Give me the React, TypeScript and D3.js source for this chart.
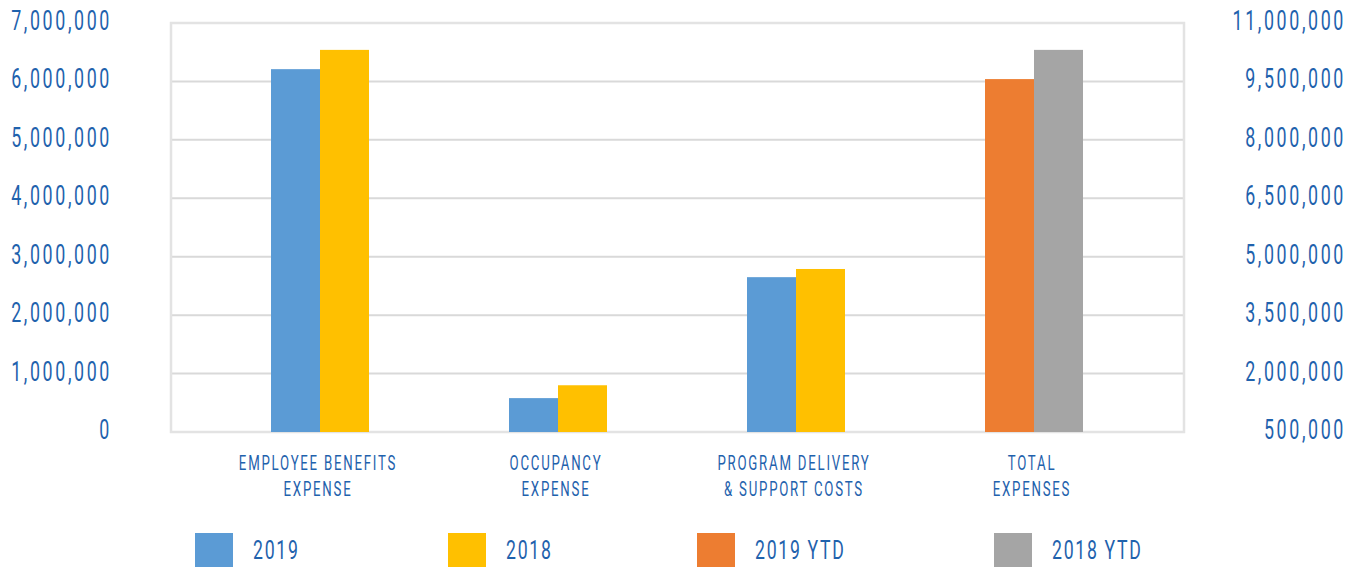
import * as d3 from "d3";

// categories and values
const categories = [
  ["EMPLOYEE BENEFITS", "EXPENSE"],
  ["OCCUPANCY", "EXPENSE"],
  ["PROGRAM DELIVERY", "& SUPPORT COSTS"],
  ["TOTAL", "EXPENSES"],
];
const categoryKeys = ["employee", "occupancy", "program", "total"];

// primary axis series (first three categories)
const values2019 = [6210000, 580000, 2650000];
const values2018 = [6540000, 800000, 2790000];
// secondary axis series (total only)
const values2019Ytd = [9560000];
const values2018Ytd = [10310000];

const leftTicks = [0, 1000000, 2000000, 3000000, 4000000, 5000000, 6000000, 7000000];
const rightTicks = [500000, 2000000, 3500000, 5000000, 6500000, 8000000, 9500000, 11000000];

const legendItems = [
  { label: "2019", color: "#5B9BD5" },
  { label: "2018", color: "#FFC000" },
  { label: "2019 YTD", color: "#ED7D31" },
  { label: "2018 YTD", color: "#A5A5A5" },
];
const legendX = [195, 448, 697, 994];

const WIDTH = 1365;
const HEIGHT = 568;
const FONT = "Roboto, sans-serif";
const TEXT = "#1F62AD";

// the reference uses a condensed face, so squeeze Roboto horizontally
function CondText(props: {
  x: number;
  y: number;
  size: number;
  sx: number;
  ls: number;
  anchor?: "start" | "middle" | "end";
  children: string;
}) {
  const { x, y, size, sx, ls, anchor = "start", children } = props;
  return (
    <text
      transform={`translate(${x},${y}) scale(${sx},1)`}
      fontSize={size}
      letterSpacing={ls}
      textAnchor={anchor}
      fill={TEXT}
    >
      {children}
    </text>
  );
}

export default function App() {
  const frame = { left: 171, right: 1184, top: 23, bottom: 432 };

  const yLeft = d3.scaleLinear().domain([0, 7000000]).range([frame.bottom, frame.top]);
  const yRight = d3.scaleLinear().domain([500000, 11000000]).range([frame.bottom, frame.top]);
  const x = d3.scaleBand<string>().domain(categoryKeys).range([201, 1153]);
  const inner = d3.scaleBand<string>().domain(["a", "b"]).range([-49, 49]);
  const fmt = d3.format(",");

  const bars: { x: number; y: number; h: number; color: string }[] = [];
  values2019.forEach((v, i) => {
    const cx = x(categoryKeys[i])! + x.bandwidth() / 2;
    bars.push({ x: cx + inner("a")!, y: yLeft(v), h: yLeft(0) - yLeft(v), color: legendItems[0].color });
  });
  values2018.forEach((v, i) => {
    const cx = x(categoryKeys[i])! + x.bandwidth() / 2;
    bars.push({ x: cx + inner("b")!, y: yLeft(v), h: yLeft(0) - yLeft(v), color: legendItems[1].color });
  });
  const totalCx = x("total")! + x.bandwidth() / 2;
  values2019Ytd.forEach((v) => {
    bars.push({ x: totalCx + inner("a")!, y: yRight(v), h: yRight(500000) - yRight(v), color: legendItems[2].color });
  });
  values2018Ytd.forEach((v) => {
    bars.push({ x: totalCx + inner("b")!, y: yRight(v), h: yRight(500000) - yRight(v), color: legendItems[3].color });
  });

  return (
    <svg
      width={WIDTH}
      height={HEIGHT}
      style={{ position: "absolute", left: 0, top: 0, background: "#fff" }}
      fontFamily={FONT}
    >
      {/* grid lines */}
      {leftTicks.map((t) => (
        <line
          key={t}
          x1={frame.left}
          x2={frame.right}
          y1={yLeft(t)}
          y2={yLeft(t)}
          stroke="#D9D9D9"
          strokeWidth={2}
        />
      ))}
      {/* frame */}
      <rect
        x={frame.left}
        y={frame.top}
        width={frame.right - frame.left}
        height={frame.bottom - frame.top}
        fill="none"
        stroke="#E3E3E3"
        strokeWidth={2.5}
      />

      {bars.map((b, i) => (
        <rect key={i} x={b.x} y={b.y} width={inner.bandwidth()} height={b.h} fill={b.color} />
      ))}

      {/* left axis */}
      {leftTicks.map((t) => (
        <CondText key={t} x={112} y={yLeft(t) + 7} size={27} sx={0.66} ls={4} anchor="end">
          {fmt(t)}
        </CondText>
      ))}
      {/* right axis */}
      {rightTicks.map((t) => (
        <CondText key={t} x={1346} y={yRight(t) + 7} size={27} sx={0.66} ls={4} anchor="end">
          {fmt(t)}
        </CondText>
      ))}

      {/* category labels */}
      {categories.map((lines, i) => {
        const cx = x(categoryKeys[i])! + x.bandwidth() / 2 - 2;
        return lines.map((l, j) => (
          <CondText key={`${i}-${j}`} x={cx} y={470 + j * 26} size={21} sx={0.63} ls={2.8} anchor="middle">
            {l}
          </CondText>
        ));
      })}

      {/* legend */}
      {legendItems.map((item, i) => (
        <g key={item.label} transform={`translate(${legendX[i]},533)`}>
          <rect width={38} height={34} fill={item.color} />
          <CondText x={58} y={26} size={26} sx={0.68} ls={2.5}>
            {item.label}
          </CondText>
        </g>
      ))}
    </svg>
  );
}
